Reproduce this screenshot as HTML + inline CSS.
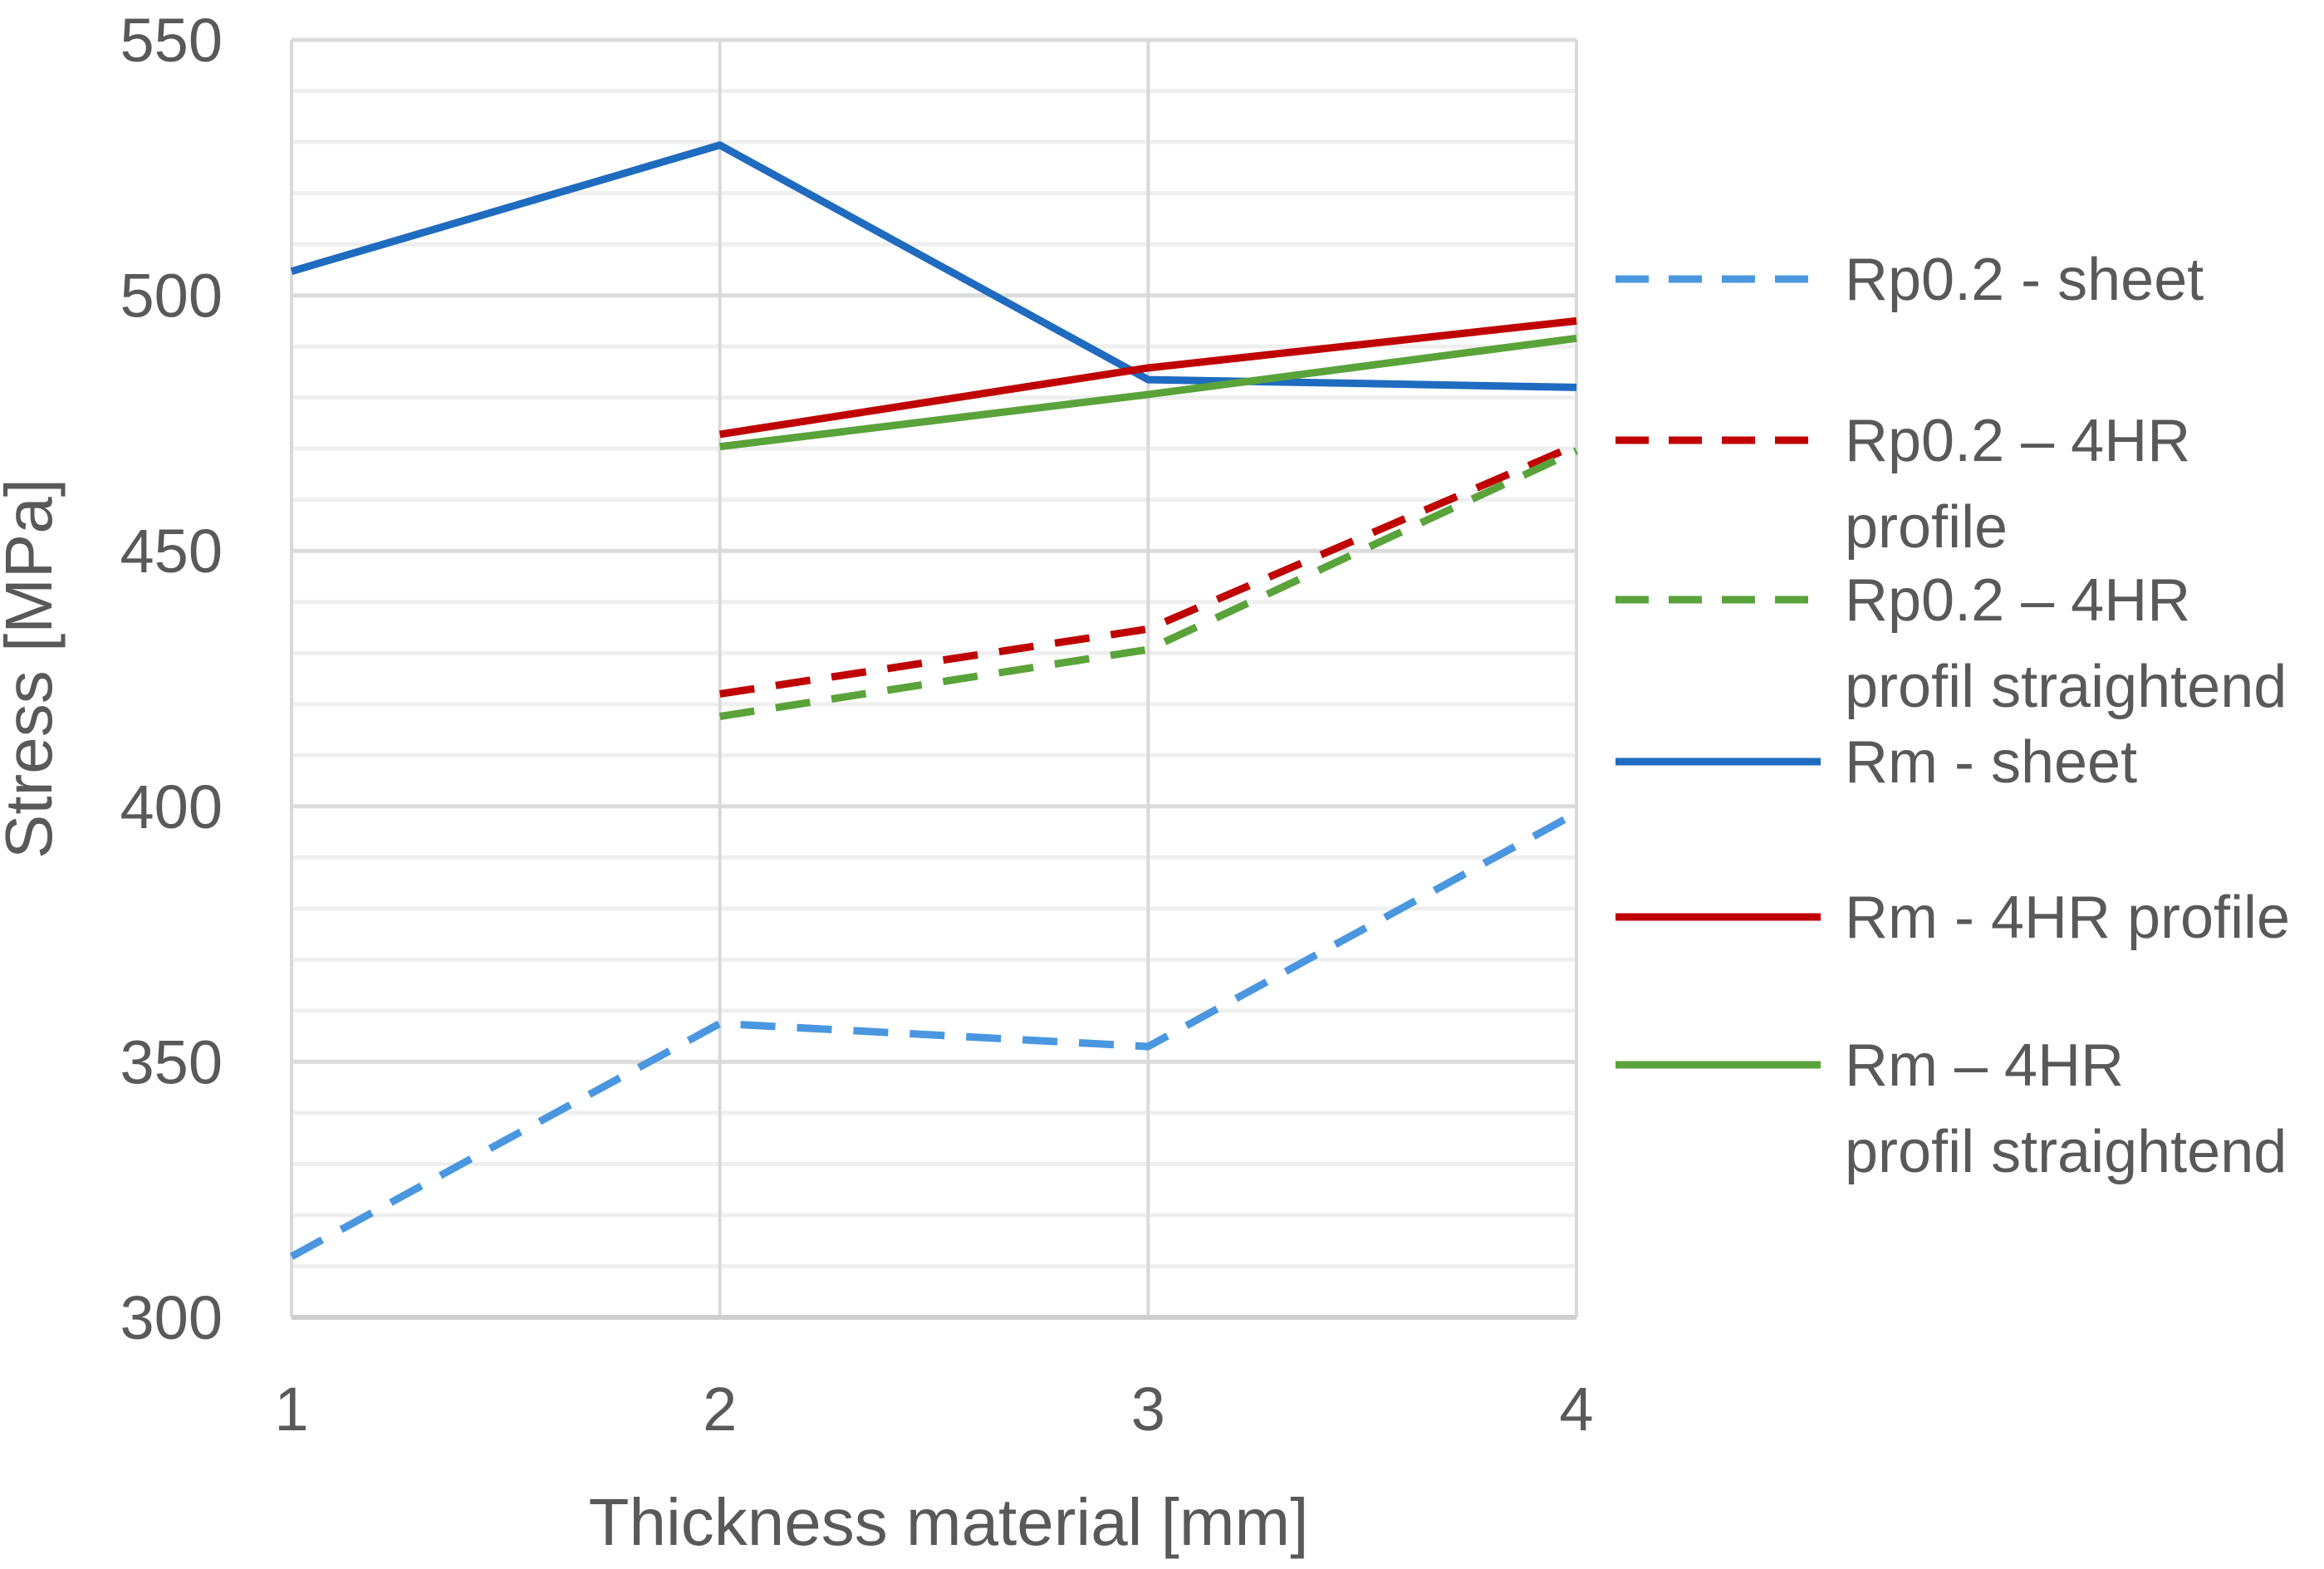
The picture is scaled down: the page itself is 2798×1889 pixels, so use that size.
<!DOCTYPE html>
<html><head><meta charset="utf-8"><style>
html,body{margin:0;padding:0;background:#fff;}
svg{display:block;font-family:"Liberation Sans",sans-serif;}
</style></head><body>
<svg id="chart" width="2798" height="1889" viewBox="0 0 2798 1889">
<g id="grid"></g>
<g id="axes"></g>
<g id="series"></g>
<g id="legend"></g>
<text x="62" y="805" transform="rotate(-90 62 805)" text-anchor="middle" font-size="80" fill="#595959">Stress [MPa]</text>
<text x="1142" y="1860" text-anchor="middle" font-size="80" fill="#595959">Thickness material [mm]</text>
</svg>
<script>
const categories = [1, 2, 3, 4];
const yTicks = [300, 350, 400, 450, 500, 550];
const seriesNames = ["Rp0.2 - sheet", "Rp0.2 – 4HR|profile", "Rp0.2 – 4HR|profil straightend", "Rm - sheet", "Rm - 4HR profile", "Rm – 4HR|profil straightend"];
const rpSheet = [311.9, 357.5, 353, 398.7];
const rpProfile = [null, 422, 434.7, 470.7];
const rpStraight = [null, 417.6, 430.7, 469.6];
const rmSheet = [504.7, 529.4, 483.5, 482];
const rmProfile = [null, 472.8, 485.8, 495];
const rmStraight = [null, 470.4, 480.6, 491.6];

const NS = "http://www.w3.org/2000/svg";
const X0 = 351, X1 = 1898, Y0 = 1586, Y1 = 48, VMIN = 300, VMAX = 550;
function xs(c){ return X0 + (c - 1) / 3 * (X1 - X0); }
function ys(v){ return Y0 - (v - VMIN) / (VMAX - VMIN) * (Y0 - Y1); }
function mk(tag, attrs, parent){ const e = document.createElementNS(NS, tag); for (const k in attrs) e.setAttribute(k, attrs[k]); parent.appendChild(e); return e; }

const grid = document.getElementById('grid');
for (let v = VMIN; v <= VMAX; v += 10) {
  if (v % 50 === 0) continue;
  const l = mk('line', {x1: X0, x2: X1, y1: ys(v), y2: ys(v), stroke: '#efefef', 'stroke-width': 5}, grid);
  
  
}
yTicks.forEach(v => {
  const l = mk('line', {x1: X0, x2: X1, y1: ys(v), y2: ys(v), stroke: '#dcdcdc', 'stroke-width': 5}, grid);
  
  
});
categories.forEach(c => {
  const l = mk('line', {x1: xs(c), x2: xs(c), y1: Y1, y2: Y0, stroke: '#d9d9d9', 'stroke-width': 4}, grid);
  
  
});
const axes = document.getElementById('axes');
const xa = mk('line', {x1: X0, x2: X1, y1: Y0, y2: Y0, stroke: '#cfcfcf', 'stroke-width': 6}, axes);


yTicks.forEach(v => {
  const t = mk('text', {x: 268, y: ys(v) + 26, 'text-anchor': 'end', 'font-size': 74, fill: '#595959'}, axes);
  t.textContent = v;
  
  
});
categories.forEach(c => {
  const t = mk('text', {x: xs(c), y: 1722, 'text-anchor': 'middle', 'font-size': 74, fill: '#595959'}, axes);
  t.textContent = c;
  
  
});

const styles = [
  {data: rpSheet, color: '#4a97e0', dash: '42 26', name: 'rp02-sheet-line'},
  {data: rpProfile, color: '#c00000', dash: '42 26', name: 'rp02-4hr-profile-line'},
  {data: rpStraight, color: '#5aa33a', dash: '42 26', name: 'rp02-4hr-straightend-line'},
  {data: rmSheet, color: '#1f6bbf', dash: '', name: 'rm-sheet-line'},
  {data: rmProfile, color: '#c00000', dash: '', name: 'rm-4hr-profile-line'},
  {data: rmStraight, color: '#5aa33a', dash: '', name: 'rm-4hr-straightend-line'}
];
const sg = document.getElementById('series');
styles.forEach(s => {
  const pts = [];
  s.data.forEach((v, i) => { if (v !== null) pts.push(xs(categories[i]) + ',' + ys(v)); });
  const p = mk('polyline', {points: pts.join(' '), fill: 'none', stroke: s.color, 'stroke-width': 9, 'stroke-linejoin': 'round'}, sg);
  if (s.dash) p.setAttribute('stroke-dasharray', s.dash);
  
  
});

const lg = document.getElementById('legend');
const legY = [336, 530, 722, 917, 1104, 1282];
styles.forEach((s, i) => {
  const y = legY[i];
  const l = mk('line', {x1: 1945, x2: 2192, y1: y, y2: y, stroke: s.color, 'stroke-width': 9}, lg);
  if (s.dash) l.setAttribute('stroke-dasharray', '40 24');
  
  
  const parts = seriesNames[i].split('|');
  parts.forEach((txt, j) => {
    const t = mk('text', {x: 2221, y: y + 25 + j * 104, 'font-size': 72, fill: '#595959'}, lg);
    t.textContent = txt;
    
    
  });
});
</script>
</body></html>
